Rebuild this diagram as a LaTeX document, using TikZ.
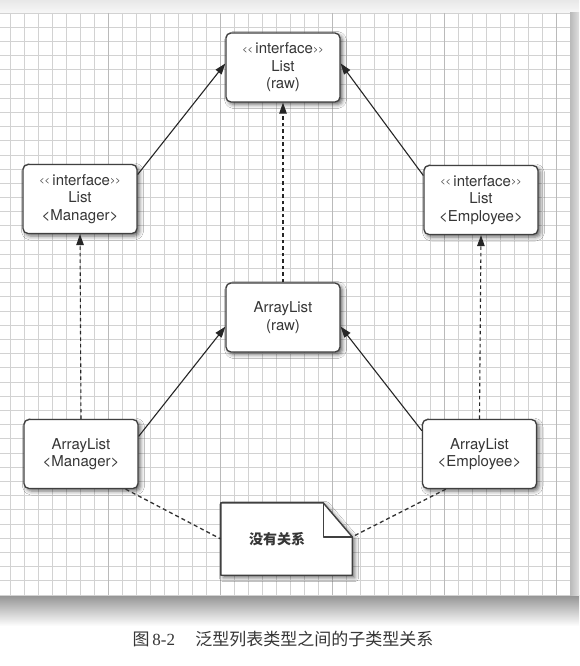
\documentclass[tikz,border=0pt]{standalone}
\usepackage{fontspec}
\setmainfont{TeX Gyre Heros}
\newfontfamily\cjk{Noto Sans CJK SC}
\newfontfamily\capserif{Liberation Serif}
\usetikzlibrary{arrows.meta,shadows.blur,calc}
\definecolor{ink}{HTML}{363636}
\definecolor{edge}{HTML}{404040}
\definecolor{gridminor}{HTML}{D2D2D2}
\definecolor{gridmajor}{HTML}{BABABA}
\newcommand\stereo{\raisebox{1.5pt}{\fontsize{9}{9}\selectfont<{}<}\,interface\raisebox{1.5pt}{\fontsize{9}{9}\selectfont>{}>}}
\begin{document}
\begin{tikzpicture}[x=1pt,y=-1pt,
  minorline/.style={gridminor,line width=0.9pt},
  majorline/.style={gridmajor,line width=1.0pt},
  umlbox/.style={draw=edge,line width=1.3pt,rounded corners=5pt,fill=white,
    minimum width=114pt,minimum height=69pt,align=center,text=ink,
    font=\fontsize{15}{17.5}\selectfont,
    blur shadow={shadow xshift=2.5pt,shadow yshift=-2.5pt,shadow blur radius=4pt,shadow opacity=60}},
  notebox/.style={minimum width=131pt,minimum height=72pt,inner sep=0pt,text=ink,
    font=\cjk\bfseries\fontsize{14}{16}\selectfont},
  solidarrow/.style={draw=black!85,line width=1.1pt,-{Triangle[length=11pt,width=7.5pt]}},
  dasharrow/.style={draw=black!85,line width=1.1pt,dash pattern=on 3.5pt off 3pt,-{Triangle[length=11pt,width=7.5pt]}},
  dashline/.style={draw=black!80,line width=1.3pt,dash pattern=on 4pt off 3pt}
]
\useasboundingbox (0,0) rectangle (579,666);
\fill[white] (0,0) rectangle (579,666);
% page shadows
\shade[top color=gray!18,bottom color=gray!6] (0,0) rectangle (579,13);
\shade[top color=gray!85,bottom color=white] (0,595) rectangle (579,626);
\shade[left color=gray!55,right color=gray!25] (570,13) rectangle (579,595);
% grid
\foreach \i in {0,...,40} {
  \pgfmathsetmacro\xx{10+14*\i}
  \draw[minorline] (\xx,13) -- (\xx,595);
}
\foreach \i in {0,...,41} {
  \pgfmathsetmacro\yy{13+14.195*\i}
  \draw[minorline] (0,\yy) -- (570,\yy);
}
\foreach \xx in {108,220,332,444,556} {
  \draw[majorline] (\xx,13) -- (\xx,595);
}
\draw[majorline] (570,13) -- (570,595);
% nodes
\node[umlbox] (lr) at (283,67.5) {\stereo\\List\\(raw)};
\node[umlbox] (lm) at (80,199) {\stereo\\List\\<Manager>};
\node[umlbox] (le) at (481,200) {\stereo\\List\\<Employee>};
\node[umlbox] (ar) at (283,317.5) {ArrayList\\(raw)};
\node[umlbox] (am) at (81,454) {ArrayList\\<Manager>};
\node[umlbox] (ae) at (479.5,454) {ArrayList\\<Employee>};
% note
\node[notebox] (note) at (286.5,539) {};
\coordinate (foldtop) at ([xshift=-29pt]note.north east);
\coordinate (foldpt) at ([yshift=-34pt]note.north east);
\path[draw=edge,line width=1.4pt,fill=white,line join=round,
  blur shadow={shadow xshift=2.5pt,shadow yshift=-2.5pt,shadow blur radius=4pt,shadow opacity=60}]
  (note.north west) -- (foldtop) -- (foldpt) -- (note.south east) -- (note.south west) -- cycle;
\draw[edge,line width=1.4pt,line join=round] (foldtop) |- (foldpt);
\node[notebox] (notetext) at (note) {\hspace*{-19pt}没有关系};
% connectors
\draw[solidarrow] (lm.23) -- (lr.176);
\draw[solidarrow] (le.157) -- (lr.4);
\draw[dasharrow] (ar.north) -- (lr.south);
\draw[dasharrow] (am.north) -- (lm.south);
\draw[dasharrow] (ae.north) -- (le.south);
\draw[solidarrow] (am.17) -- (ar.189);
\draw[solidarrow] (ae.158) -- (ar.351);
\draw[dashline] ([xshift=-13pt]am.south east) -- (note.west);
\draw[dashline] ([xshift=24pt]ae.south west) -- (foldpt);
% caption
\node[text=ink,font=\fontsize{17}{19}\selectfont] (caption) at (283,639)
  {{\cjk 图}\,{\capserif 8-2}\hspace{1.2em}{\cjk 泛型列表类型之间的子类型关系}};
\end{tikzpicture}
\end{document}
